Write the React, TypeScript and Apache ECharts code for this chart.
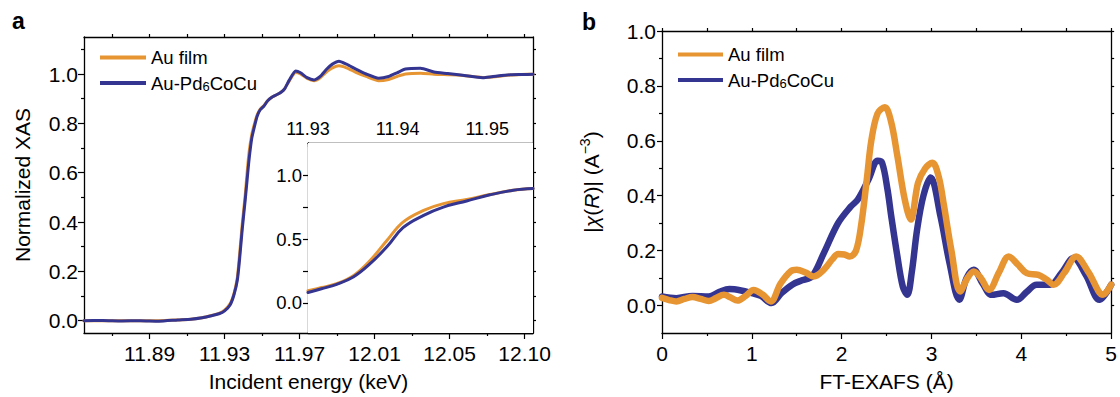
import React, { useEffect, useRef } from "react";
import * as echarts from "echarts";

const FONT = "Liberation Sans";
const seriesNames = ["Au film", "Au-Pd6CoCu"];
const colors = ["#E69532", "#343491"];

// Panel a: main XANES
const energyA = [11.855, 11.865, 11.875, 11.885, 11.895, 11.905, 11.912, 11.918, 11.923, 11.927, 11.93, 11.933, 11.935, 11.9368, 11.938, 11.9394, 11.941, 11.942, 11.943, 11.9445, 11.946, 11.9474, 11.949, 11.951, 11.9528, 11.955, 11.9575, 11.9599, 11.962, 11.9645, 11.9679, 11.9705, 11.974, 11.9777, 11.981, 11.9845, 11.9875, 11.991, 11.995, 12.0, 12.0055, 12.0122, 12.0175, 12.022, 12.0265, 12.0345, 12.0417, 12.049, 12.0559, 12.062, 12.0684, 12.0755, 12.0825, 12.0885, 12.0945];
const auFilmA = [0.0, 0.0, 0.0, 0.0, 0.0, 0.003, 0.006, 0.012, 0.021, 0.03, 0.043, 0.07, 0.11, 0.175, 0.27, 0.39, 0.51, 0.6, 0.68, 0.755, 0.8, 0.835, 0.858, 0.872, 0.89, 0.905, 0.915, 0.925, 0.94, 0.972, 1.006, 1.0, 0.982, 0.973, 0.985, 1.01, 1.025, 1.033, 1.025, 1.007, 0.99, 0.973, 0.978, 0.99, 1.0, 1.003, 0.999, 0.997, 0.995, 0.99, 0.986, 0.99, 0.996, 0.998, 0.999];
const auPdA = [0.0, 0.001, -0.001, 0.0, -0.002, 0.003, 0.006, 0.012, 0.02, 0.028, 0.04, 0.065, 0.105, 0.165, 0.25, 0.37, 0.49, 0.57, 0.65, 0.74, 0.79, 0.83, 0.855, 0.87, 0.89, 0.905, 0.915, 0.925, 0.94, 0.975, 1.012, 1.005, 0.985, 0.976, 0.99, 1.02, 1.04, 1.052, 1.04, 1.02, 1.0, 0.983, 0.99, 1.005, 1.02, 1.023, 1.008, 1.002, 0.996, 0.99, 0.985, 0.992, 0.997, 0.998, 0.999];

// Panel a: inset
const energyInset = [11.93, 11.9315, 11.9332, 11.9351, 11.9369, 11.9388, 11.9406, 11.9429, 11.9451, 11.9477, 11.9503, 11.9529, 11.9551];
const auFilmInset = [0.095, 0.12, 0.15, 0.215, 0.33, 0.49, 0.634, 0.726, 0.779, 0.812, 0.85, 0.884, 0.897];
const auPdInset = [0.081, 0.11, 0.145, 0.205, 0.305, 0.44, 0.59, 0.687, 0.752, 0.8, 0.848, 0.884, 0.897];

// Panel b: FT-EXAFS
const rAuFilm = [0, 0.08, 0.16, 0.25, 0.34, 0.43, 0.52, 0.6, 0.69, 0.76, 0.84, 0.93, 1.02, 1.12, 1.21, 1.32, 1.43, 1.5, 1.6, 1.69, 1.8, 1.9, 1.96, 2.03, 2.09, 2.16, 2.22, 2.28, 2.33, 2.4, 2.48, 2.55, 2.62, 2.7, 2.77, 2.85, 2.93, 3.01, 3.08, 3.14, 3.22, 3.32, 3.4, 3.47, 3.55, 3.64, 3.75, 3.86, 3.96, 4.06, 4.19, 4.28, 4.36, 4.48, 4.61, 4.75, 4.91, 5.0];
const chiAuFilm = [0.028, 0.02, 0.015, 0.024, 0.031, 0.024, 0.017, 0.027, 0.039, 0.03, 0.018, 0.035, 0.057, 0.04, 0.015, 0.08, 0.124, 0.13, 0.12, 0.106, 0.13, 0.17, 0.188, 0.186, 0.179, 0.2, 0.3, 0.46, 0.6, 0.7, 0.722, 0.67, 0.545, 0.39, 0.313, 0.447, 0.5, 0.52, 0.47, 0.362, 0.204, 0.051, 0.1, 0.124, 0.1, 0.057, 0.12, 0.179, 0.15, 0.118, 0.112, 0.095, 0.076, 0.12, 0.179, 0.12, 0.039, 0.076];
const rAuPd = [0, 0.16, 0.34, 0.52, 0.64, 0.75, 0.88, 1.0, 1.1, 1.22, 1.33, 1.45, 1.56, 1.67, 1.8, 1.96, 2.1, 2.18, 2.3, 2.4, 2.45, 2.51, 2.55, 2.62, 2.68, 2.73, 2.78, 2.84, 2.91, 2.99, 3.1, 3.2, 3.31, 3.39, 3.47, 3.57, 3.67, 3.8, 3.95, 4.06, 4.17, 4.32, 4.45, 4.58, 4.72, 4.87, 5.0];
const chiAuPd = [0.033, 0.027, 0.035, 0.033, 0.05, 0.06, 0.055, 0.045, 0.035, 0.009, 0.045, 0.076, 0.092, 0.106, 0.19, 0.3, 0.36, 0.386, 0.46, 0.527, 0.52, 0.423, 0.33, 0.18, 0.07, 0.039, 0.12, 0.277, 0.4, 0.466, 0.325, 0.156, 0.021, 0.1, 0.13, 0.08, 0.039, 0.045, 0.021, 0.05, 0.076, 0.076, 0.12, 0.173, 0.11, 0.021, 0.076];

// Tick values and labels
const aXMajor = [11.89, 11.93, 11.97, 12.01, 12.05, 12.09];
const aXLabels = ["11.89", "11.93", "11.97", "12.01", "12.05", "12.10"];
const aXMinor = [11.87, 11.91, 11.95, 11.99, 12.03, 12.07];
const aXTop = [11.87, 11.89, 11.91, 11.93, 11.95, 11.97, 11.99, 12.01, 12.03, 12.05, 12.07, 12.09];
const aYMajor = [0, 0.2, 0.4, 0.6, 0.8, 1.0];
const aYMinor = [0.1, 0.3, 0.5, 0.7, 0.9, 1.1];
const aYRight = [0, 0.1, 0.2, 0.3, 0.4, 0.5, 0.6, 0.7, 0.8, 0.9, 1.0, 1.1];
const insetXTicks = [11.93, 11.935, 11.94, 11.945, 11.95];
const insetXLabels = [11.93, 11.94, 11.95];
const insetYTicks = [0, 0.25, 0.5, 0.75, 1.0];
const insetYLabels = [0, 0.5, 1.0];
const bXMajor = [0, 1, 2, 3, 4, 5];
const bXMinor = [0.5, 1.5, 2.5, 3.5, 4.5];
const bXTop = [0, 0.5, 1, 1.5, 2, 2.5, 3, 3.5, 4, 4.5, 5];
const bYMajor = [0, 0.2, 0.4, 0.6, 0.8, 1.0];
const bYMinor = [0.1, 0.3, 0.5, 0.7, 0.9];
const bYRight = [0, 0.1, 0.2, 0.3, 0.4, 0.5, 0.6, 0.7, 0.8, 0.9, 1.0];

type AxOpt = {
  gridIndex: number;
  position: string;
  min: number;
  max: number;
  ticks: number[];
  tickLen: number;
  inside?: boolean;
  line?: boolean;
  labels?: number[];
  fmt?: (v: number) => string;
  fontSize?: number;
  margin?: number;
  name?: any;
  nameGap?: number;
  nameStyle?: any;
};

function mkAxis(o: AxOpt) {
  const ax: any = {
    type: "value",
    gridIndex: o.gridIndex,
    position: o.position,
    min: o.min,
    max: o.max,
    axisLine: { show: o.line !== false, onZero: false, lineStyle: { color: "#000", width: 1.3 } },
    splitLine: { show: false },
    axisTick: {
      show: true,
      inside: !!o.inside,
      length: o.tickLen,
      customValues: o.ticks,
      lineStyle: { color: "#000", width: 1.2 },
    },
    axisLabel: o.labels
      ? {
          show: true,
          customValues: o.labels,
          formatter: o.fmt,
          fontSize: o.fontSize ?? 21,
          margin: o.margin ?? 8,
          color: "#000",
          fontFamily: FONT,
          showMinLabel: true,
          showMaxLabel: true,
        }
      : { show: false },
  };
  if (o.name) {
    ax.name = o.name;
    ax.nameLocation = "middle";
    ax.nameGap = o.nameGap;
    ax.nameTextStyle = { fontSize: 21, color: "#000", fontFamily: FONT, ...(o.nameStyle || {}) };
  }
  return ax;
}

const fmt1 = (v: number) => v.toFixed(1);
const fmt2 = (v: number) => v.toFixed(2);
const fmtA = (v: number) => {
  const i = aXMajor.findIndex((m) => Math.abs(m - v) < 1e-6);
  return i >= 0 ? aXLabels[i] : "";
};
const fmt0 = (v: number) => String(Math.round(v));

const legendRich = {
  n: { fontSize: 18.5, fontFamily: FONT, color: "#000", lineHeight: 20 },
  s: { fontSize: 13, fontFamily: FONT, color: "#000", lineHeight: 13, padding: [16, 0, 0, 0], verticalAlign: "bottom" },
};
const legendFormatter = (name: string) =>
  name === "Au-Pd6CoCu" ? "{n|Au-Pd}{s|6}{n|CoCu}" : "{n|" + name + "}";

export default function App() {
  const ref = useRef<HTMLDivElement>(null);
  useEffect(() => {
    if (!ref.current) return;
    const chart = echarts.init(ref.current, undefined, { renderer: "svg" });

    const xAxes = [
      mkAxis({ gridIndex: 0, position: "bottom", min: 11.855, max: 12.0945, ticks: aXMajor, tickLen: 6, labels: aXMajor, fmt: fmtA, margin: 10, name: "Incident energy (keV)", nameGap: 38 }),
      mkAxis({ gridIndex: 0, position: "bottom", min: 11.855, max: 12.0945, ticks: aXMinor, tickLen: 3, line: false }),
      mkAxis({ gridIndex: 0, position: "top", min: 11.855, max: 12.0945, ticks: aXTop, tickLen: 3 }),
      mkAxis({ gridIndex: 1, position: "top", min: 11.93, max: 11.9551, ticks: insetXTicks, tickLen: 4, inside: true, labels: insetXLabels, fmt: fmt2, fontSize: 18, margin: 5 }),
      mkAxis({ gridIndex: 1, position: "bottom", min: 11.93, max: 11.9551, ticks: [], tickLen: 0 }),
      mkAxis({ gridIndex: 2, position: "bottom", min: 0, max: 5, ticks: bXMajor, tickLen: 6, labels: bXMajor, fmt: fmt0, margin: 10, name: "FT-EXAFS (Å)", nameGap: 38 }),
      mkAxis({ gridIndex: 2, position: "bottom", min: 0, max: 5, ticks: bXMinor, tickLen: 3, line: false }),
      mkAxis({ gridIndex: 2, position: "top", min: 0, max: 5, ticks: bXTop, tickLen: 3 }),
    ];
    const yAxes = [
      mkAxis({ gridIndex: 0, position: "left", min: -0.05, max: 1.15, ticks: aYMajor, tickLen: 6, labels: aYMajor, fmt: fmt1, margin: 6, name: "Normalized XAS", nameGap: 51 }),
      mkAxis({ gridIndex: 0, position: "left", min: -0.05, max: 1.15, ticks: aYMinor, tickLen: 3, line: false }),
      mkAxis({ gridIndex: 0, position: "right", min: -0.05, max: 1.15, ticks: aYRight, tickLen: 3 }),
      mkAxis({ gridIndex: 1, position: "left", min: -0.237, max: 1.255, ticks: insetYTicks, tickLen: 5, labels: insetYLabels, fmt: fmt1, fontSize: 18.5, margin: 6 }),
      mkAxis({ gridIndex: 2, position: "left", min: -0.1, max: 1.0, ticks: bYMajor, tickLen: 5, labels: bYMajor, fmt: fmt1, margin: 6,
        name: "{n||}{i|χ}{n|(}{i|R}{n|)| (A}{sup|−3}{n|)}", nameGap: 58,
        nameStyle: {
          rich: {
            n: { fontSize: 21, fontFamily: FONT, color: "#000", lineHeight: 26 },
            i: { fontSize: 21, fontFamily: FONT, color: "#000", fontStyle: "italic", lineHeight: 26 },
            sup: { fontSize: 14, fontFamily: FONT, color: "#000", lineHeight: 14, verticalAlign: "top" },
          },
        },
      }),
      mkAxis({ gridIndex: 2, position: "left", min: -0.1, max: 1.0, ticks: bYMinor, tickLen: 3, line: false }),
      mkAxis({ gridIndex: 2, position: "right", min: -0.1, max: 1.0, ticks: bYRight, tickLen: 3 }),
    ];

    const pairs = (xs: number[], ys: number[]) => xs.map((x, i) => [x, ys[i]]);
    const line = (name: string, color: string, data: number[][], xi: number, yi: number, width: number, smooth: number, z: number) => ({
      type: "line",
      name,
      xAxisIndex: xi,
      yAxisIndex: yi,
      data,
      showSymbol: false,
      symbol: "none",
      smooth,
      color,
      itemStyle: { color },
      lineStyle: { color, width, cap: "round", join: "round" },
      z,
    });

    chart.setOption({
      animation: false,
      backgroundColor: "#fff",
      textStyle: { fontFamily: FONT, color: "#000" },
      grid: [
        { left: 84, top: 37, width: 449, height: 296, containLabel: false },
        { left: 308, top: 143, width: 225, height: 190, show: true, backgroundColor: "#fff", borderWidth: 0, z: 5 },
        { left: 662, top: 31, width: 453, height: 302 },
      ],
      xAxis: xAxes,
      yAxis: yAxes,
      legend: [
        {
          orient: "vertical", left: 100, top: 48, padding: 0, itemGap: -3, itemWidth: 46, itemHeight: 4, icon: "rect",
          data: seriesNames, formatter: legendFormatter, textStyle: { rich: legendRich }, selectedMode: false,
        },
        {
          orient: "vertical", left: 678, top: 45, padding: 0, itemGap: -3, itemWidth: 45, itemHeight: 4, icon: "rect",
          data: seriesNames, formatter: legendFormatter, textStyle: { rich: legendRich }, selectedMode: false,
        },
      ],
      series: [
        line(seriesNames[0], colors[0], pairs(energyA, auFilmA), 0, 0, 3, 0.2, 2),
        line(seriesNames[1], colors[1], pairs(energyA, auPdA), 0, 0, 3, 0.2, 3),
        line(seriesNames[0], colors[0], pairs(energyInset, auFilmInset), 3, 3, 3, 0.4, 6),
        line(seriesNames[1], colors[1], pairs(energyInset, auPdInset), 3, 3, 3, 0.4, 7),
        line(seriesNames[1], colors[1], pairs(rAuPd, chiAuPd), 5, 4, 6.5, 0.35, 2),
        line(seriesNames[0], colors[0], pairs(rAuFilm, chiAuFilm), 5, 4, 6.5, 0.35, 3),
      ],
      graphic: [
        { type: "text", left: 12, top: 9, style: { text: "a", font: "bold 23px " + FONT, fill: "#000" } },
        { type: "text", left: 582, top: 10, style: { text: "b", font: "bold 23px " + FONT, fill: "#000" } },
      ],
    });
    return () => chart.dispose();
  }, []);
  return <div ref={ref} style={{ position: "fixed", left: 0, top: 0, width: 1120, height: 397 }} />;
}
